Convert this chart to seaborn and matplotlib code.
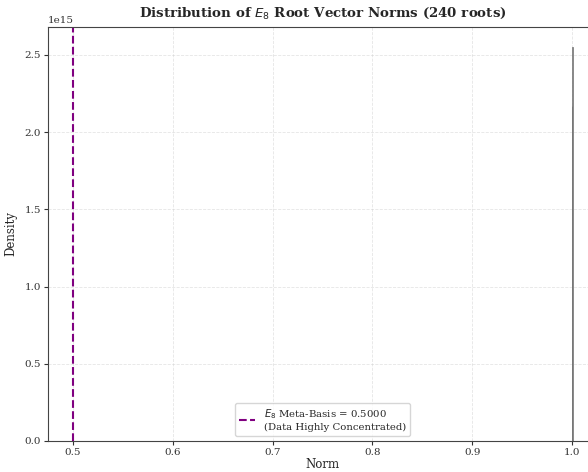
import numpy as np
import pandas as pd
import matplotlib
matplotlib.use("Agg")
import matplotlib.pyplot as plt
import seaborn as sns

# Data
norm_bin_centers = [0.99975, 1.00025]
norm_density = [2.17e15, 2.55e15]
bin_edges = [0.9995, 1.0, 1.0005]
meta_basis = 0.5

sns.set_style("ticks")
plt.rcParams['font.family'] = ['DejaVu Serif']

df = pd.DataFrame({"Norm": norm_bin_centers, "w": norm_density})

fig = plt.figure(figsize=(5.88, 4.72), dpi=100)
ax = fig.add_axes([0.0816, 0.0657, 0.9337, 0.8771])

sns.histplot(data=df, x="Norm", weights="w", bins=bin_edges, stat="count",
             color="#bbbbbb", edgecolor="#666666", linewidth=0.5, alpha=0.8, ax=ax)
ax.axvline(meta_basis, color="purple", linestyle="--", linewidth=1.5,
           label=f"$E_8$ Meta-Basis = {meta_basis:.4f}\n(Data Highly Concentrated)")

ax.set_xlim(0.475, 1.025)
ax.set_ylim(0, 2.68e15)
ax.set_xticks([0.5, 0.6, 0.7, 0.8, 0.9, 1.0])
ax.set_yticks([0, 0.5e15, 1.0e15, 1.5e15, 2.0e15, 2.5e15])
ax.grid(True, linestyle="--", alpha=0.5, linewidth=0.6)
ax.tick_params(labelsize=7.5, length=3, pad=2, colors="#333333")
for s in ax.spines.values():
    s.set_color("#444444")
ax.yaxis.get_offset_text().set_fontsize(7.5)

ax.set_xlabel("Norm", fontsize=8.5, labelpad=1)
ax.set_ylabel("Density", fontsize=8.5, labelpad=5)
ax.set_title("Distribution of $E_8$ Root Vector Norms (240 roots)", fontsize=9.6,
             fontweight="bold", pad=7)
ax.legend(loc="lower center", fontsize=7.3, handlelength=1.6)

fig.savefig("out.png", dpi=100)
